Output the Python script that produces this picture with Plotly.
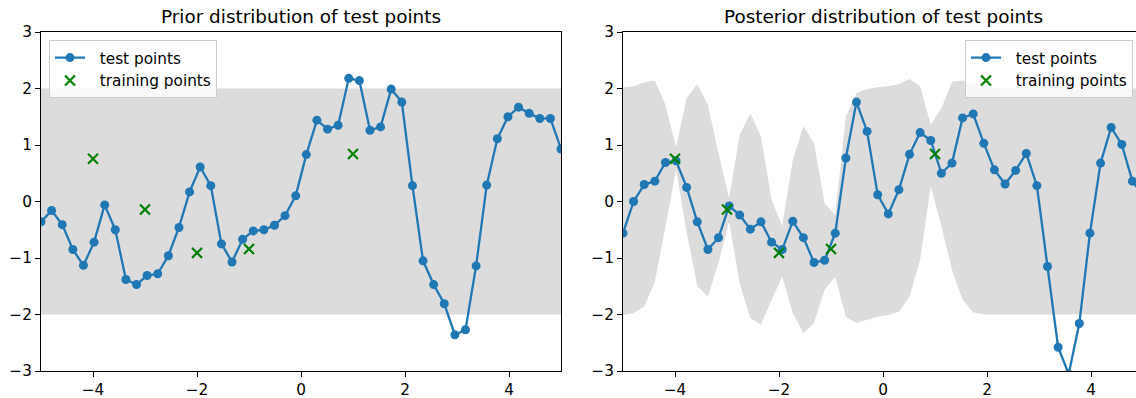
import numpy as np
import plotly.graph_objects as go

# ---------------- data ----------------
x_test = np.linspace(-5, 5, 50)

prior_sample = [
    -0.36, -0.16, -0.41, -0.85, -1.13, -0.72, -0.06, -0.50, -1.38, -1.47,
    -1.31, -1.28, -0.96, -0.46, 0.17, 0.61, 0.28, -0.75, -1.07, -0.67,
    -0.52, -0.50, -0.42, -0.25, 0.10, 0.83, 1.44, 1.28, 1.35, 2.18,
    2.14, 1.26, 1.32, 1.99, 1.76, 0.28, -1.05, -1.47, -1.81, -2.36,
    -2.27, -1.14, 0.29, 1.11, 1.50, 1.67, 1.56, 1.47, 1.47, 0.93,
]

prior_band_x = [-5, 5]
prior_upper = [2.0, 2.0]
prior_lower = [-2.0, -2.0]

posterior_sample = [
    -0.56, 0.00, 0.30, 0.36, 0.69, 0.72, 0.25, -0.36, -0.85, -0.64,
    -0.08, -0.24, -0.49, -0.36, -0.72, -0.85, -0.35, -0.64, -1.08, -1.04,
    -0.56, 0.77, 1.76, 1.24, 0.12, -0.22, 0.21, 0.835, 1.22, 1.08,
    0.50, 0.68, 1.48, 1.55, 1.03, 0.56, 0.31, 0.55, 0.85, 0.28,
    -1.15, -2.58, -3.05, -2.16, -0.56, 0.68, 1.31, 1.01, 0.36, 0.10,
]

posterior_upper = [
    2.02, 2.04, 2.11, 2.14, 1.71, 0.96, 1.83, 2.08, 1.71, 0.85,
    0.06, 1.18, 1.56, 1.15, 0.03, -0.44, 0.74, 1.33, 1.03, -0.03,
    -0.24, 1.50, 1.92, 1.99, 2.02, 2.04, 2.08, 2.17, 2.04, 1.36,
    1.65, 2.12, 2.14, 2.06, 2.03, 2.01, 2.00, 2.00, 2.00, 2.00,
    2.00, 2.00, 2.00, 2.00, 2.00, 2.00, 2.00, 2.00, 2.00, 2.00,
]

posterior_lower = [
    -2.01, -1.98, -1.86, -1.42, -0.45, 0.57, -0.55, -1.50, -1.68, -1.09,
    -0.36, -1.45, -2.06, -2.18, -1.74, -1.33, -1.98, -2.33, -2.15, -1.56,
    -1.33, -2.04, -2.15, -2.09, -2.04, -2.01, -1.95, -1.68, -1.03, 0.27,
    -0.44, -1.21, -1.74, -1.96, -2.00, -2.00, -2.00, -2.00, -2.00, -2.00,
    -2.00, -2.00, -2.00, -2.00, -2.00, -2.00, -2.00, -2.00, -2.00, -2.00,
]

x_train = [-4, -3, -2, -1, 1]
y_train = [0.757, -0.141, -0.909, -0.841, 0.841]

titles = ["Prior distribution of test points", "Posterior distribution of test points"]
legend_names = ["test points", "training points"]
y_ticks = [-3, -2, -1, 0, 1, 2, 3]
x_ticks = [-4, -2, 0, 2, 4]

# ---------------- style ----------------
BLUE = "#1f77b4"
GREEN = "#008000"
BAND = "#dcdcdc"
FONT = "DejaVu Sans"
W, H = 1136, 398
TICK_FS = 15.3
TITLE_FS = 18.4
PAD = "\u00a0\u00a0"

fig = go.Figure()


def add_panel(xa, ya, band_x, upper, lower, sample, legend):
    fig.add_trace(go.Scatter(x=list(band_x), y=upper, mode="lines",
                             line=dict(width=0, color=BAND), showlegend=False,
                             hoverinfo="skip", xaxis=xa, yaxis=ya))
    fig.add_trace(go.Scatter(x=list(band_x), y=lower, mode="lines",
                             line=dict(width=0, color=BAND), fill="tonexty",
                             fillcolor=BAND, showlegend=False,
                             hoverinfo="skip", xaxis=xa, yaxis=ya))
    fig.add_trace(go.Scatter(x=x_test, y=sample, mode="lines+markers",
                             name=PAD + legend_names[0],
                             line=dict(color=BLUE, width=2.3),
                             marker=dict(color=BLUE, size=9),
                             xaxis=xa, yaxis=ya, legend=legend))
    fig.add_trace(go.Scatter(x=x_train, y=y_train, mode="markers",
                             name=PAD + legend_names[1],
                             marker=dict(symbol="x-thin", size=10,
                                         line=dict(color=GREEN, width=2.2),
                                         color=GREEN),
                             xaxis=xa, yaxis=ya, legend=legend))


add_panel("x", "y", prior_band_x, prior_upper, prior_lower, prior_sample, "legend")
add_panel("x2", "y2", x_test, posterior_upper, posterior_lower, posterior_sample, "legend2")

axis_common = dict(showline=True, linecolor="black", linewidth=1.1,
                   ticks="outside", ticklen=5, tickwidth=1.1, tickcolor="black",
                   showgrid=False, zeroline=False,
                   tickfont=dict(family=FONT, size=TICK_FS, color="black"))

left_dom = [41 / W, 561 / W]
right_dom = [623 / W, 1.0]
right_xmax = -5 + (1136 - 623) / 52.0

legend_common = dict(yanchor="top", y=0.976, traceorder="normal",
                     bgcolor="rgba(255,255,255,0.8)", bordercolor="#cccccc",
                     borderwidth=1,
                     font=dict(family=FONT, size=TICK_FS, color="black"),
                     itemwidth=30)

fig.update_layout(
    width=W, height=H,
    margin=dict(l=0, r=0, t=32, b=27, autoexpand=False),
    paper_bgcolor="white", plot_bgcolor="white",
    font=dict(family=FONT, size=TICK_FS, color="black"),
    xaxis=dict(domain=left_dom, range=[-5, 5], tickvals=x_ticks, mirror=True,
               anchor="y", **axis_common),
    yaxis=dict(domain=[0, 1], range=[-3, 3], tickvals=y_ticks, mirror=True,
               anchor="x", **axis_common),
    xaxis2=dict(domain=right_dom, range=[-5, right_xmax], tickvals=x_ticks,
                mirror=True, anchor="y2", **axis_common),
    yaxis2=dict(domain=[0, 1], range=[-3, 3], tickvals=y_ticks, mirror=False,
                anchor="x2", **axis_common),
    legend=dict(x=49 / W, xanchor="left", **legend_common),
    legend2=dict(x=1133 / W, xanchor="right", **legend_common),
    showlegend=True,
)

centers = [301 / W, 883 / W]
for t, cx in zip(titles, centers):
    fig.add_annotation(text=t, x=cx, y=1, xref="paper", yref="paper",
                       xanchor="center", yanchor="bottom", yshift=3,
                       showarrow=False,
                       font=dict(family=FONT, size=TITLE_FS, color="black"))

fig.write_html(
    "out.html",
    config={"displayModeBar": False},
    post_script="document.body.style.margin='0';document.body.style.overflow='hidden';",
)
